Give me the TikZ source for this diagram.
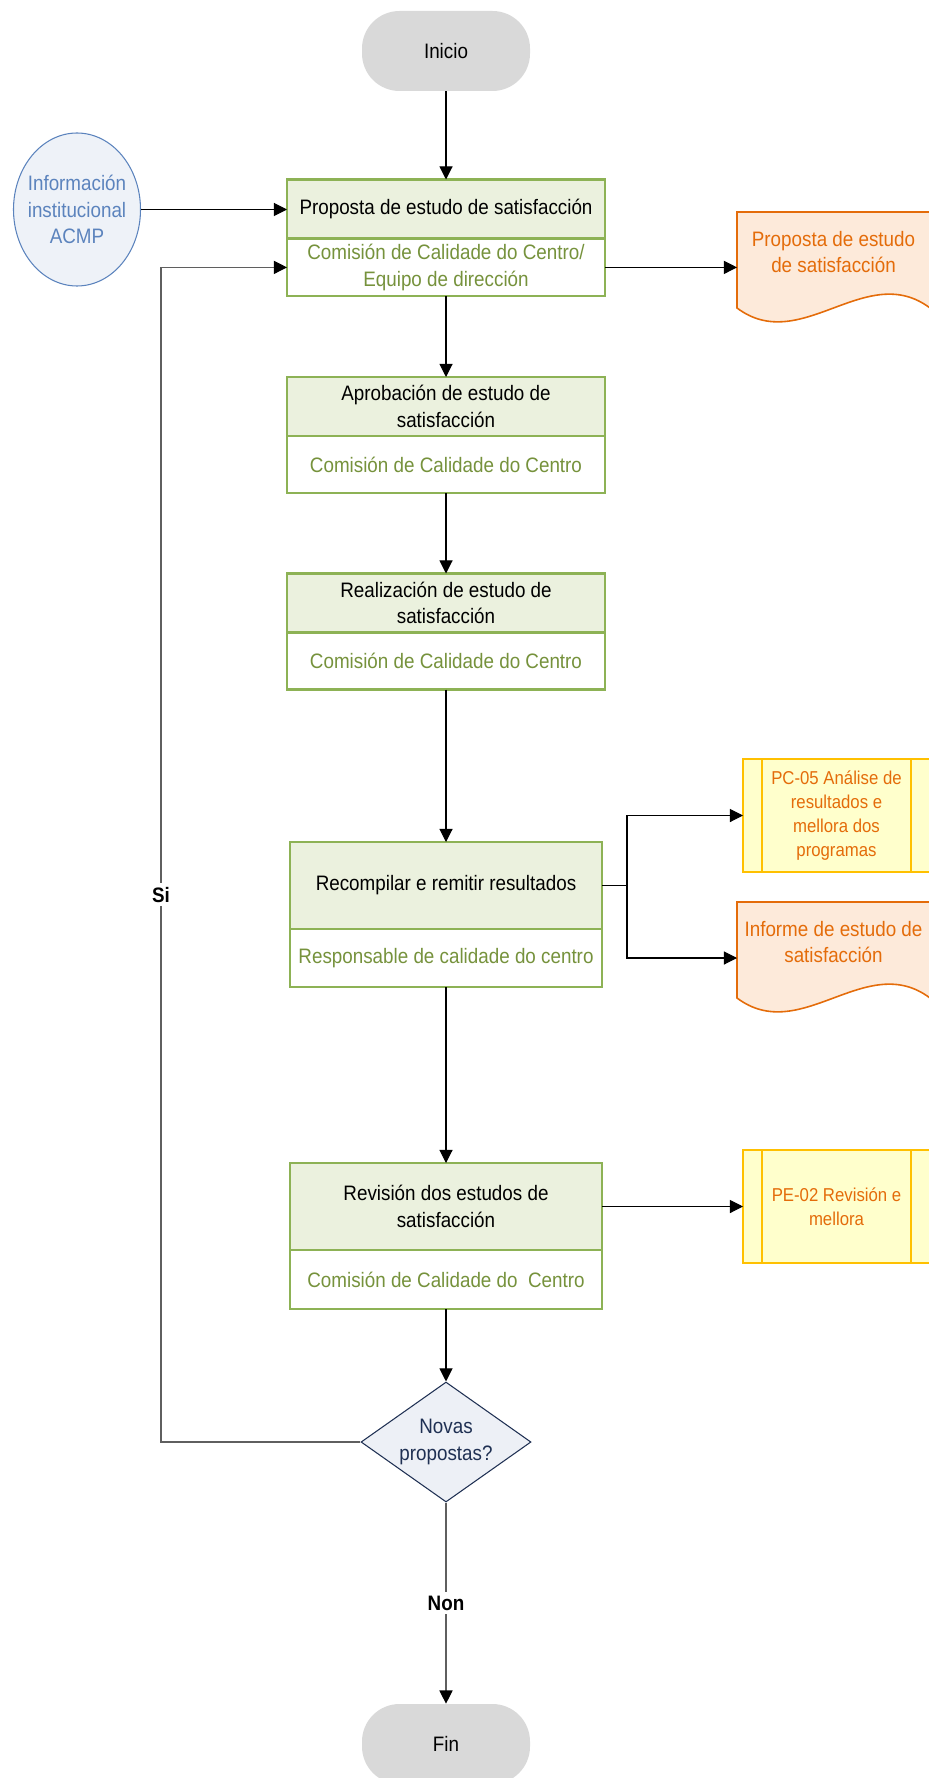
\documentclass[tikz,border=0pt]{standalone}
\usepackage{fontspec}
\setmainfont{Liberation Sans}[FakeStretch=0.9]
\usetikzlibrary{arrows.meta,positioning,shapes.geometric,calc,backgrounds}

\definecolor{boxgreen}{HTML}{8DB255}
\definecolor{boxfill}{HTML}{EBF1DE}
\definecolor{txtgreen}{HTML}{76923C}
\definecolor{docorange}{HTML}{E46C0A}
\definecolor{docfill}{HTML}{FDEADA}
\definecolor{subyellow}{HTML}{FFC000}
\definecolor{subfill}{HTML}{FFFFCC}
\definecolor{infoblue}{HTML}{5B83BD}
\definecolor{infofill}{HTML}{EEF2F8}
\definecolor{decnavy}{HTML}{1F3053}
\definecolor{decfill}{HTML}{EDF0F6}
\definecolor{termgray}{HTML}{D9D9D9}
\definecolor{linegray}{HTML}{5F5F5F}

\tikzset{
  terminal/.style={fill=termgray, rounded corners=0.75cm, minimum width=3.36cm, minimum height=1.6cm},
  taskhead/.style={draw=boxgreen, fill=boxfill, line width=1.3pt, outer sep=0pt, align=center, minimum width=6.36cm, minimum height=1.18cm},
  taskrole/.style={draw=boxgreen, fill=white, text=txtgreen, line width=1.3pt, outer sep=0pt, align=center, minimum width=6.36cm, minimum height=1.14cm},
  info/.style={ellipse, draw=infoblue, fill=infofill, text=infoblue, align=center, line width=0.6pt, inner xsep=-0.25cm, inner ysep=0pt, minimum width=2.54cm, minimum height=3.06cm},
  docnode/.style={text=docorange, align=center, minimum width=3.86cm, minimum height=1.6cm, outer sep=0pt},
  subbox/.style={draw=subyellow, fill=subfill, text=docorange, line width=0.9pt, outer sep=0pt, align=center, minimum width=3.74cm, minimum height=2.26cm, font=\fontsize{10.6}{13.5}\selectfont},
  subline/.style={draw=subyellow, line width=0.9pt},
  decision/.style={diamond, aspect=1.4, draw=decnavy, fill=decfill, text=decnavy, line width=0.6pt, align=center, inner sep=0pt, minimum width=3.4cm, minimum height=2.4cm},
  flow/.style={->, line width=0.6pt},
  backline/.style={->, line width=0.6pt, draw=linegray},
  lbl/.style={fill=white, inner sep=2pt, font=\fontsize{11.9}{15}\selectfont\bfseries}
}

\newcommand{\docoutline}[1]{%
  \begin{pgfonlayer}{background}
    \filldraw[draw=docorange, fill=docfill, line width=0.9pt]
      (#1.north west) -- (#1.north east) -- ($(#1.south east)+(0,16)$)
      .. controls +(-64,-48) and +(64,48) .. ($(#1.south west)+(0,16)$) -- cycle;
  \end{pgfonlayer}}

\begin{document}
\begin{tikzpicture}[x=0.2mm, y=-0.2mm, >={Triangle[length=7.5pt,width=7.5pt,color=black]}, font=\fontsize{11.9}{15}\selectfont]
  \useasboundingbox (0,0) rectangle (928,1778);

  % Inicio
  \node[terminal] (inicio) at (446,51) {Inicio};

  % Entrada
  \node[info] (info) at (77,209.5) {Información\\institucional\\ACMP};

  % Tarefas
  \node[taskhead] (p1) at (446,209) {Proposta de estudo de satisfacción};
  \node[taskrole, below=0pt of p1] (p1r) {Comisión de Calidade do Centro/\\Equipo de dirección};
  \node[taskhead] (p2) at (446,406.5) {Aprobación de estudo de\\satisfacción};
  \node[taskrole, below=0pt of p2] (p2r) {Comisión de Calidade do Centro};
  \node[taskhead] (p3) at (446,603) {Realización de estudo de\\satisfacción};
  \node[taskrole, below=0pt of p3] (p3r) {Comisión de Calidade do Centro};
  \node[taskhead, minimum width=6.24cm, minimum height=1.74cm] (p4) at (446,885.5) {Recompilar e remitir resultados};
  \node[taskrole, minimum width=6.24cm, minimum height=1.16cm, below=0pt of p4] (p4r) {Responsable de calidade do centro};
  \node[taskhead, minimum width=6.24cm, minimum height=1.74cm] (p5) at (446,1206.5) {Revisión dos estudos de\\satisfacción};
  \node[taskrole, minimum width=6.24cm, minimum height=1.18cm, below=0pt of p5] (p5r) {Comisión de Calidade do~ Centro};

  % Documentos
  \node[docnode] (doc1) at (833.5,252) {Proposta de estudo\\de satisfacción};
  \docoutline{doc1}
  \node[docnode] (doc2) at (833.5,942) {Informe de estudo de\\satisfacción};
  \docoutline{doc2}

  % Procesos relacionados
  \node[subbox] (pc05) at (836.5,815.5) {PC-05 Análise de\\resultados e\\mellora dos\\programas};
  \node[subbox] (pe02) at (836.5,1206.5) {PE-02 Revisión e\\mellora};
  \foreach \s in {pc05,pe02} {
    \draw[subline] ($(\s.north west)+(19,0)$) -- ($(\s.south west)+(19,0)$);
    \draw[subline] ($(\s.north east)+(-19,0)$) -- ($(\s.south east)+(-19,0)$);
  }

  % Decision e fin
  \node[decision] (dec) at (446,1442) {Novas\\propostas?};
  \node[terminal] (fin) at (446,1744) {Fin};

  % Conectores
  \draw[flow] (inicio) -- (p1);
  \draw[flow] (info.east) -- (info.east -| p1.west);
  \draw[flow] (p1r.east) -- (p1r.east -| doc1.west);
  \draw[flow] (p1r) -- (p2);
  \draw[flow] (p2r) -- (p3);
  \draw[flow] (p3r) -- (p4);
  \draw[flow] (p4.east) -- ++(25,0) coordinate (split) |- (pc05.west);
  \draw[flow] (split) |- (p4r.east -| doc2.west);
  \draw[flow] (p4r) -- (p5);
  \draw[flow] (p5.east) -- (pe02.west);
  \draw[flow] (p5r) -- (dec);
  \coordinate (back) at (161,1442);
  \draw[backline] (dec.west) -- (back) |- node[lbl, pos=0.233] (si) {Si} (p1r.west);
  \draw[backline] (dec) -- node[lbl] (non) {Non} (fin);
\end{tikzpicture}
\end{document}
